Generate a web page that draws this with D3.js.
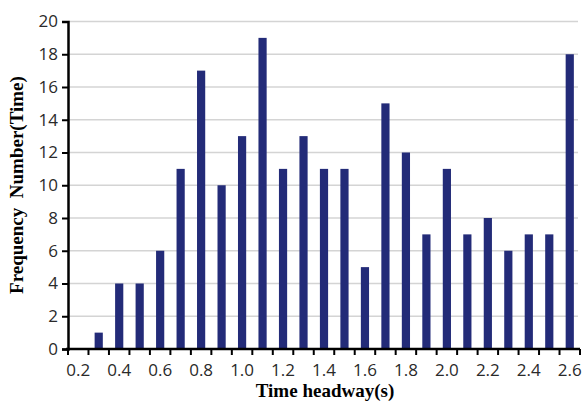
<!DOCTYPE html>
<html><head><meta charset="utf-8">
<script src="https://cdn.jsdelivr.net/npm/d3@7"></script>
<style>body{margin:0;background:#fff}</style>
</head><body><svg id="c" width="584" height="403"></svg>
<script>
const categories = ["0.2","0.3","0.4","0.5","0.6","0.7","0.8","0.9","1.0","1.1","1.2","1.3","1.4","1.5","1.6","1.7","1.8","1.9","2.0","2.1","2.2","2.3","2.4","2.5","2.6"];
const values = [0,1,4,4,6,11,17,10,13,19,11,13,11,11,5,15,12,7,11,7,8,6,7,7,18];
const yTicks = [0,2,4,6,8,10,12,14,16,18,20];
const xLabels = ["0.2","0.4","0.6","0.8","1.0","1.2","1.4","1.6","1.8","2.0","2.2","2.4","2.6"];

const svg = d3.select("#c");
const L = 68, R = 580, T = 21.5, B = 349;
const x = d3.scaleBand().domain(categories).range([L, R]).paddingInner(0.6).paddingOuter(0.3);
const y = d3.scaleLinear().domain([0, 20]).range([B, T]);
const step = x.step();

// gridlines
svg.append("g").selectAll("line").data(yTicks.filter(d => d > 0)).join("line")
  .attr("x1", L).attr("x2", R - 2).attr("y1", d => y(d)).attr("y2", d => y(d))
  .attr("stroke", "#d4d4d4").attr("stroke-width", 1.5);

// bars
svg.append("g").selectAll("rect").data(categories.map((c, i) => ({c, v: values[i]})).filter(d => d.v > 0)).join("rect")
  .attr("x", d => x(d.c)).attr("width", x.bandwidth())
  .attr("y", d => y(d.v)).attr("height", d => B - y(d.v))
  .attr("fill", "#232b78");

// y axis
const ya = svg.append("g").attr("transform", `translate(${L},0)`)
  .call(d3.axisLeft(y).tickValues(yTicks).tickSize(6).tickPadding(4));
ya.select(".domain").attr("stroke", "#000").attr("stroke-width", 2.5);
ya.selectAll(".tick line").attr("stroke", "#000").attr("stroke-width", 2);
ya.selectAll(".tick text").attr("font-family", "Open Sans, sans-serif").attr("font-size", 17).attr("fill", "#2a2a2a");

// x axis: ticks at category boundaries, labels every other category
const boundaries = d3.range(categories.length + 1).map(i => L + i * step);
const xa = svg.append("g");
xa.append("line").attr("x1", L - 2).attr("x2", R).attr("y1", B).attr("y2", B)
  .attr("stroke", "#000").attr("stroke-width", 2.5);
xa.selectAll("line.t").data(boundaries).join("line").attr("class", "t")
  .attr("x1", d => d).attr("x2", d => d).attr("y1", B).attr("y2", B + 6)
  .attr("stroke", "#000").attr("stroke-width", 2);
xa.selectAll("text").data(xLabels).join("text")
  .attr("x", d => x(d) + x.bandwidth() / 2).attr("y", B + 27)
  .attr("text-anchor", "middle").attr("font-family", "Open Sans, sans-serif")
  .attr("font-size", 17).attr("fill", "#2a2a2a").text(d => d);

// titles
svg.append("text").attr("x", 325).attr("y", 397).attr("text-anchor", "middle")
  .attr("font-family", "Liberation Serif, serif").attr("font-weight", "bold").attr("font-size", 19)
  .text("Time headway(s)");
svg.append("text").attr("transform", "translate(23,185) rotate(-90)").attr("text-anchor", "middle")
  .attr("font-family", "Liberation Serif, serif").attr("font-weight", "bold").attr("font-size", 19)
  .attr("xml:space", "preserve").style("white-space", "pre")
  .text("Frequency  Number(Time)");
</script></body></html>
